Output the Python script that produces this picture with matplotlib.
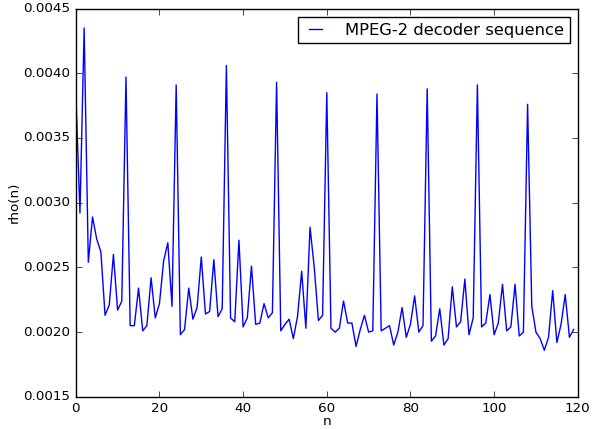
import numpy as np
import matplotlib
matplotlib.use("Agg")
import matplotlib.pyplot as plt
from matplotlib.ticker import FormatStrFormatter

# rho(n) values, n = 0..119
rho = [0.00385, 0.00292, 0.00435, 0.00254, 0.00289, 0.00272, 0.00262, 0.00213,
       0.00221, 0.00260, 0.00217, 0.00224, 0.00397, 0.00205, 0.00205, 0.00234,
       0.00201, 0.00205, 0.00242, 0.00211, 0.00222, 0.00255, 0.00269, 0.00220,
       0.00391, 0.00198, 0.00202, 0.00234, 0.00210, 0.00219, 0.00258, 0.00214,
       0.00216, 0.00256, 0.00212, 0.00218, 0.00406, 0.00211, 0.00208, 0.00271,
       0.00204, 0.00211, 0.00251, 0.00206, 0.00207, 0.00222, 0.00211, 0.00215,
       0.00393, 0.00201, 0.00206, 0.00210, 0.00195, 0.00212, 0.00247, 0.00203,
       0.00281, 0.00250, 0.00209, 0.00213, 0.00385, 0.00203, 0.00200, 0.00203,
       0.00224, 0.00207, 0.00207, 0.00189, 0.00202, 0.00213, 0.00200, 0.00201,
       0.00384, 0.00201, 0.00203, 0.00205, 0.00190, 0.00200, 0.00219, 0.00196,
       0.00206, 0.00228, 0.00200, 0.00205, 0.00388, 0.00193, 0.00197, 0.00218,
       0.00190, 0.00195, 0.00235, 0.00204, 0.00208, 0.00241, 0.00198, 0.00211,
       0.00391, 0.00204, 0.00207, 0.00229, 0.00198, 0.00207, 0.00237, 0.00201,
       0.00204, 0.00237, 0.00197, 0.00200, 0.00376, 0.00220, 0.00200, 0.00195,
       0.00186, 0.00196, 0.00232, 0.00192, 0.00206, 0.00229, 0.00196, 0.00202]
n = np.arange(len(rho))

plt.style.use('classic')
plt.rcParams['font.family'] = 'DejaVu Sans'

fig = plt.figure(figsize=(5.92, 4.29), dpi=100, facecolor='white')
ax = fig.add_axes([0.128, 0.075, 0.848, 0.905])
ax.plot(n, rho, color='b', lw=1.0, label='MPEG-2 decoder sequence')

ax.set_xlim(0, 120)
ax.set_ylim(0.0015, 0.0045)
ax.set_yticks(np.arange(0.0015, 0.00451, 0.0005))
ax.yaxis.set_major_formatter(FormatStrFormatter('%.4f'))
ax.tick_params(labelsize=9.7, direction='in', length=4)
ax.set_xlabel('n', fontsize=9.7, labelpad=0)
ax.set_ylabel('rho(n)', fontsize=9.7, labelpad=2)

leg = ax.legend(loc='upper right', fontsize=11.8, frameon=True, fancybox=False,
                shadow=False, borderaxespad=0.5, borderpad=0.35,
                handlelength=1.4, handletextpad=1.1)
leg.get_frame().set_edgecolor('black')

fig.savefig('out.png', dpi=100, facecolor='white')
